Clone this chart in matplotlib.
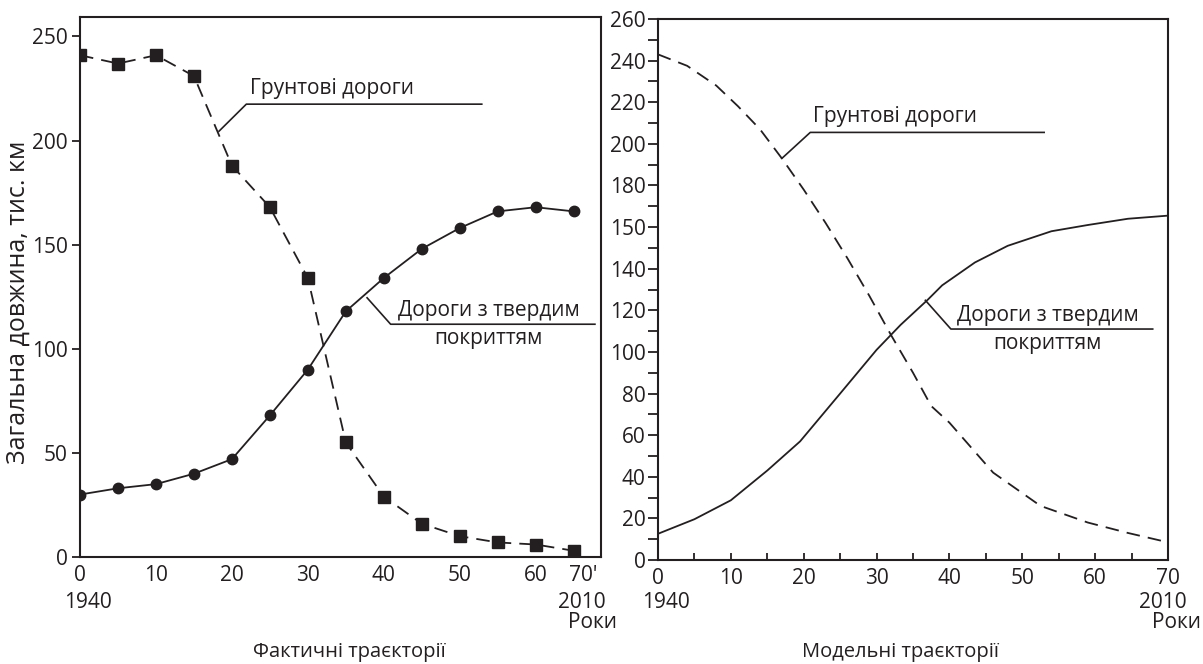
import matplotlib
matplotlib.use('Agg')
import matplotlib.pyplot as plt
from matplotlib.ticker import FixedLocator, MultipleLocator

plt.rcParams['font.family'] = ['Open Sans', 'DejaVu Sans']

# ---------------- data ----------------
# Actual trajectories (years since 1940)
years_fact = [0, 5, 10, 15, 20, 25, 30, 35, 40, 45, 50, 55, 60, 65]
unpaved_fact = [241, 237, 241, 231, 188, 168, 134, 55, 29, 16, 10, 7, 6, 3]
paved_fact = [30, 33, 35, 40, 47, 68, 90, 118, 134, 148, 158, 166, 168, 166]

# Model trajectories
model_unpaved_x = [0, 4, 8, 11, 14, 17, 20, 23, 26, 29, 32, 35, 37.5, 40, 43, 46, 52.5, 59, 64.5, 70]
model_unpaved = [243, 237.5, 228, 218, 207, 193, 178, 162, 145, 127, 108, 90, 74, 66, 54, 42, 26, 18, 13, 8.5]
model_paved_x = [0, 5, 10, 15, 19.5, 25, 30, 33.3, 37, 39, 43.5, 48, 54, 59, 64.5, 70]
model_paved = [12.6, 19.6, 28.7, 43, 57, 80, 101, 113, 125, 132, 143, 151, 158, 161, 164, 165.5]

left_xticks = [0, 10, 20, 30, 40, 50, 60, 66.3]
left_xticklabels = ['0', '10', '20', '30', '40', '50', '60', "70'"]
left_yticks = [0, 50, 100, 150, 200, 250]
right_xticks = [0, 10, 20, 30, 40, 50, 60, 70]
right_yticks = [0, 20, 40, 60, 80, 100, 120, 140, 160, 180, 200, 220, 240, 260]
right_yticklabels = ['0', '20', '40', '60', '80', '100', '120', '140', '150',
                     '180', '200', '220', '240', '260']

label_unpaved = 'Грунтові дороги'
label_paved_1 = 'Дороги з твердим'
label_paved_2 = 'покриттям'
ylabel = 'Загальна довжина, тис. км'
title_left = 'Фактичні траєкторії'
title_right = 'Модельні траєкторії'

# ---------------- figure ----------------
W, H = 1203, 664
fig = plt.figure(figsize=(W / 100, H / 100), dpi=100)

def fx(px):
    return px / W

def fy(py):
    return 1 - py / H

ink = '#231f20'
lw = 1.3
dash = (0, (7.5, 4.5))
tick_fs = 15
ann_fs = 15

# ---- left axes ----
axL = fig.add_axes([fx(80), fy(557), fx(601) - fx(80), fy(16.5) - fy(557)])
axL.set_xlim(0, 68.6)
axL.set_ylim(0, 259.6)
axL.plot(years_fact, unpaved_fact, color=ink, lw=lw, ls=dash,
         marker='s', ms=8.5, mfc=ink, mec=ink)
axL.plot(years_fact, paved_fact, color=ink, lw=lw, ls='-',
         marker='o', ms=7.5, mfc=ink, mec=ink)
axL.xaxis.set_major_locator(FixedLocator(left_xticks))
axL.set_xticklabels(left_xticklabels)
axL.yaxis.set_major_locator(FixedLocator(left_yticks))
axL.tick_params(axis='x', length=0, pad=6, labelsize=tick_fs, colors=ink)
axL.tick_params(axis='y', length=6, width=1.3, direction='out', pad=3,
                labelsize=tick_fs, colors=ink)
for sp in axL.spines.values():
    sp.set_linewidth(1.5)
    sp.set_color(ink)

# annotations left
axL.plot([18.3, 21.9, 52.9], [204.5, 217.5, 217.5], color=ink, lw=1.2, clip_on=False)
axL.text(22.4, 220, label_unpaved, fontsize=ann_fs, color=ink, ha='left', va='bottom')
axL.plot([37.8, 40.9, 67.8], [124.5, 111.8, 111.8], color=ink, lw=1.2, clip_on=False)
axL.text(53.8, 113.5, label_paved_1, fontsize=ann_fs, color=ink, ha='center', va='bottom')
axL.text(53.8, 110, label_paved_2, fontsize=ann_fs, color=ink, ha='center', va='top')

# ---- right axes ----
axR = fig.add_axes([fx(658), fy(560), fx(1168) - fx(658), fy(19) - fy(560)])
axR.set_xlim(0, 70)
axR.set_ylim(0, 260)
axR.plot(model_unpaved_x, model_unpaved, color=ink, lw=lw, ls=dash)
axR.plot(model_paved_x, model_paved, color=ink, lw=lw, ls='-')
axR.xaxis.set_major_locator(FixedLocator(right_xticks))
axR.xaxis.set_minor_locator(MultipleLocator(5))
axR.yaxis.set_major_locator(FixedLocator(right_yticks))
axR.set_yticklabels(right_yticklabels)
axR.yaxis.set_minor_locator(MultipleLocator(10))
axR.tick_params(axis='x', which='both', length=5, width=1.3, direction='in',
                pad=6, labelsize=tick_fs, colors=ink)
axR.tick_params(axis='y', which='both', length=7, width=1.3, direction='out',
                pad=2, labelsize=tick_fs, colors=ink)
for sp in axR.spines.values():
    sp.set_linewidth(1.5)
    sp.set_color(ink)

# annotations right
axR.plot([17, 20.9, 53], [193, 205.5, 205.5], color=ink, lw=1.2)
axR.text(21.3, 208, label_unpaved, fontsize=ann_fs, color=ink, ha='left', va='bottom')
axR.plot([36.7, 40.2, 67.9], [124.8, 111, 111], color=ink, lw=1.2)
axR.text(53.5, 112.5, label_paved_1, fontsize=ann_fs, color=ink, ha='center', va='bottom')
axR.text(53.5, 109, label_paved_2, fontsize=ann_fs, color=ink, ha='center', va='top')

# ---- extra axis texts ----
fig.text(fx(18), fy(302), ylabel, fontsize=18, color=ink, ha='center', va='center',
         rotation=90)
fig.text(fx(88), fy(603), '1940', fontsize=tick_fs, color=ink, ha='center', va='center')
fig.text(fx(582), fy(603), '2010', fontsize=tick_fs, color=ink, ha='center', va='center')
fig.text(fx(592), fy(623), 'Роки', fontsize=tick_fs, color=ink, ha='center', va='center')
fig.text(fx(666), fy(603), '1940', fontsize=tick_fs, color=ink, ha='center', va='center')
fig.text(fx(1163), fy(603), '2010', fontsize=tick_fs, color=ink, ha='center', va='center')
fig.text(fx(1176), fy(623), 'Роки', fontsize=tick_fs, color=ink, ha='center', va='center')

fig.text(fx(349), fy(652), title_left, fontsize=14.5, color=ink, ha='center', va='center')
fig.text(fx(900), fy(652), title_right, fontsize=14.5, color=ink, ha='center', va='center')

fig.savefig('out.png', dpi=100)
